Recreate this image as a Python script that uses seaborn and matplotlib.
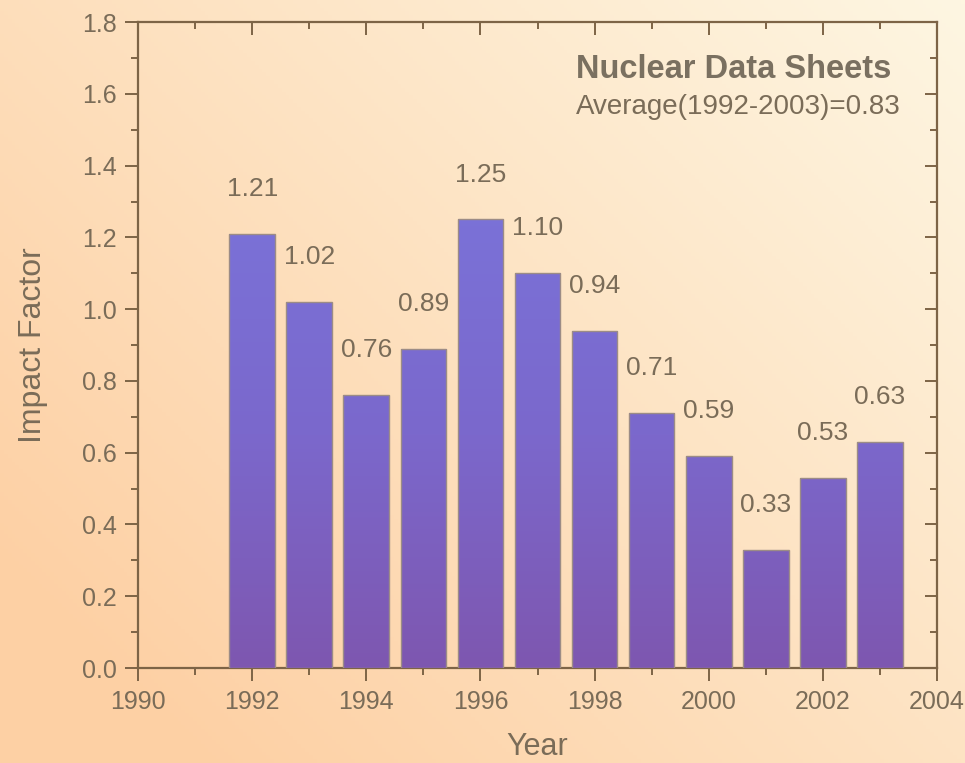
import numpy as np
import pandas as pd
import matplotlib
matplotlib.use("Agg")
import matplotlib.pyplot as plt
from matplotlib.colors import LinearSegmentedColormap, to_rgb
from matplotlib.ticker import MultipleLocator
import seaborn as sns

years = [1992, 1993, 1994, 1995, 1996, 1997, 1998, 1999, 2000, 2001, 2002, 2003]
impact = [1.21, 1.02, 0.76, 0.89, 1.25, 1.10, 0.94, 0.71, 0.59, 0.33, 0.53, 0.63]
labels = ["1.21", "1.02", "0.76", "0.89", "1.25", "1.10", "0.94", "0.71", "0.59", "0.33", "0.53", "0.63"]
title_text = "Nuclear Data Sheets"
subtitle_text = "Average(1992-2003)=0.83"

df = pd.DataFrame({"Year": years, "Impact Factor": impact})

sns.set_style("ticks")
plt.rcParams["font.family"] = ["Liberation Sans", "DejaVu Sans"]

TXT = "#7a6c58"
AX = "#7d6446"

fig = plt.figure(figsize=(9.65, 7.63), dpi=100)

# background gradient
bg = fig.add_axes([0, 0, 1, 1], zorder=-10)
bg.set_axis_off()
h, w = 200, 250
yy, xx = np.mgrid[0:1:h * 1j, 0:1:w * 1j]  # yy=0 at top
t = np.clip(0.75 * (1 - xx) + 0.6 * yy, 0, 1.2) / 1.2
light = np.array(to_rgb("#fef6e2"))
orange = np.array(to_rgb("#fdd0a4"))
img = light[None, None, :] * (1 - t[..., None]) + orange[None, None, :] * t[..., None]
bg.imshow(img, aspect="auto", extent=[0, 1, 0, 1], origin="upper")
bg.set_xlim(0, 1)
bg.set_ylim(0, 1)

ax = fig.add_axes([0.143, 0.1245, 0.828, 0.8465])
ax.set_facecolor("none")

sns.barplot(data=df, x="Year", y="Impact Factor", native_scale=True, width=0.8,
            color="#7b66c6", edgecolor="#9c8c86", linewidth=1.0, ax=ax, zorder=3)

cmap = LinearSegmentedColormap.from_list("barg", ["#7e57b0", "#7b68cc", "#7a72d8"])
for bar in list(ax.patches):
    x0 = bar.get_x()
    x1 = x0 + bar.get_width()
    y0 = bar.get_y()
    y1 = y0 + bar.get_height()
    grad = np.linspace(y0, y1, 128)[::-1].reshape(-1, 1)
    im = ax.imshow(grad, extent=[x0, x1, y0, y1], aspect="auto", cmap=cmap,
                   vmin=0, vmax=1.3, zorder=3.5, interpolation="bilinear")
    im.set_clip_path(bar)
    bar.set_facecolor("none")
    bar.set_zorder(4)

for yr, v, lab in zip(years, impact, labels):
    ax.text(yr, v + 0.125, lab, ha="center", va="center", fontsize=19, color=TXT, zorder=5)

ax.set_xlim(1990, 2004)
ax.set_ylim(0, 1.8)
ax.xaxis.set_major_locator(MultipleLocator(2))
ax.xaxis.set_minor_locator(MultipleLocator(1))
ax.yaxis.set_major_locator(MultipleLocator(0.2))
ax.yaxis.set_minor_locator(MultipleLocator(0.1))
ax.yaxis.set_major_formatter(matplotlib.ticker.FormatStrFormatter("%.1f"))
ax.xaxis.set_major_formatter(matplotlib.ticker.FormatStrFormatter("%d"))

for s in ax.spines.values():
    s.set_visible(True)
    s.set_color(AX)
    s.set_linewidth(1.6)

ax.tick_params(axis="both", which="major", direction="out", length=9.5, width=1.4,
               color=AX, labelcolor=TXT, labelsize=18, pad=6)
ax.tick_params(axis="both", which="minor", direction="out", length=5, width=1.4, color=AX)

# top and right ticks pointing inward
axt = ax.secondary_xaxis("top")
axt.set_xticks(np.arange(1990, 2005, 2))
axt.xaxis.set_minor_locator(MultipleLocator(1))
axt.tick_params(which="major", direction="in", length=9, width=1.4, color=AX, labeltop=False)
axt.tick_params(which="minor", direction="in", length=5, width=1.4, color=AX)
axt.spines["top"].set_visible(False)
axr = ax.secondary_yaxis("right")
axr.set_yticks(np.arange(0, 1.81, 0.2))
axr.yaxis.set_minor_locator(MultipleLocator(0.1))
axr.tick_params(which="major", direction="in", length=9, width=1.4, color=AX, labelright=False)
axr.tick_params(which="minor", direction="in", length=5, width=1.4, color=AX)
axr.spines["right"].set_visible(False)

ax.set_xlabel("Year", fontsize=22, color=TXT, labelpad=13)
ax.set_ylabel("Impact Factor", fontsize=23, color=TXT, labelpad=24)

ax.text(0.548, 0.927, title_text, transform=ax.transAxes, ha="left", va="center",
        fontsize=23.5, fontweight="bold", color="#7a7060")
ax.text(0.548, 0.868, subtitle_text, transform=ax.transAxes, ha="left", va="center",
        fontsize=20, color=TXT)

fig.savefig("out.png", dpi=100)
